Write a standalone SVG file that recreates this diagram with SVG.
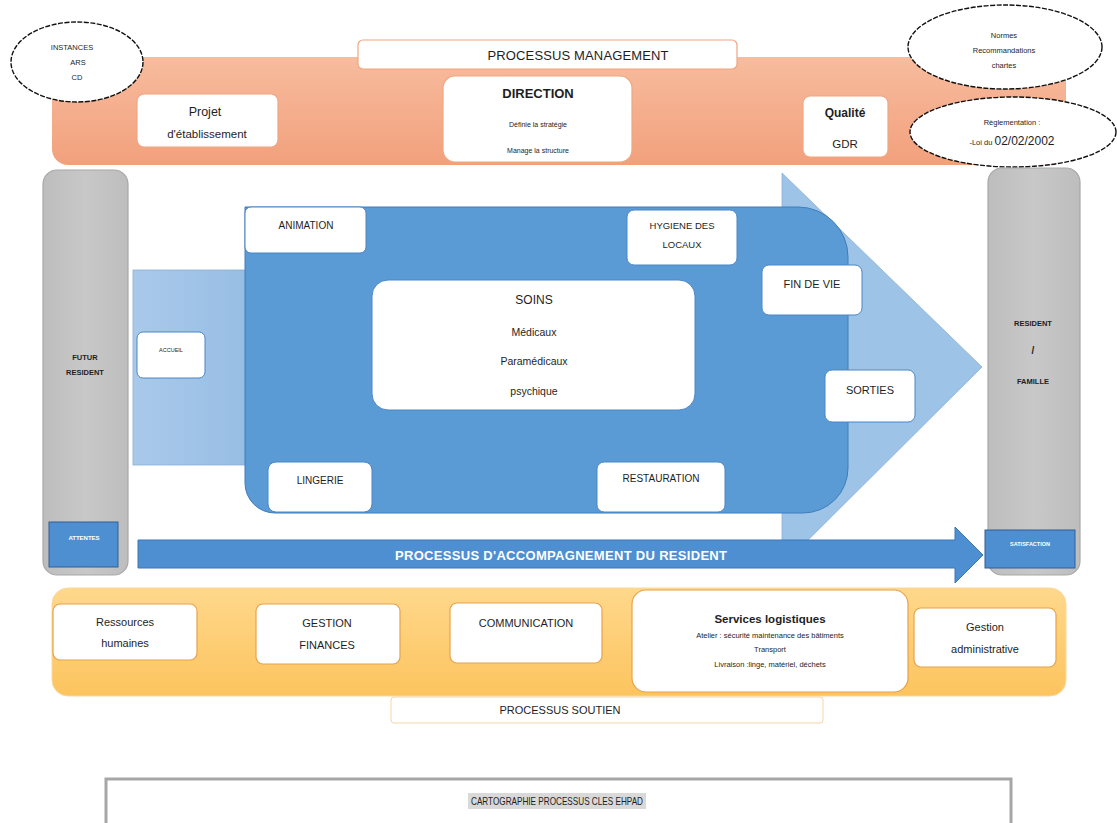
<svg xmlns="http://www.w3.org/2000/svg" width="1117" height="823" viewBox="0 0 1117 823">
<defs>
<linearGradient id="gOr" x1="0" y1="0" x2="0" y2="1"><stop offset="0" stop-color="#F7BC9E"/><stop offset="1" stop-color="#F2A07C"/></linearGradient>
<linearGradient id="gYe" x1="0" y1="0" x2="0" y2="1"><stop offset="0" stop-color="#FFD88C"/><stop offset="1" stop-color="#FCC45E"/></linearGradient>
<linearGradient id="gGr" x1="0" y1="0" x2="1" y2="0"><stop offset="0" stop-color="#BDBDBD"/><stop offset="0.5" stop-color="#C8C8C8"/><stop offset="1" stop-color="#BDBDBD"/></linearGradient>
<linearGradient id="gLb" x1="0" y1="0" x2="1" y2="0"><stop offset="0" stop-color="#A9C9EA"/><stop offset="1" stop-color="#97BDE4"/></linearGradient>
</defs>
<style>
text{font-family:"Liberation Sans",Arial,sans-serif;fill:#1e1e1e;text-anchor:middle}
.wb{fill:#fff;stroke:#F0A680;stroke-width:1.2}
.wbb{fill:#fff;stroke:#4A86C5;stroke-width:1}
.wby{fill:#fff;stroke:#E8A24A;stroke-width:1.2}
.ell{fill:#fff;stroke:#111;stroke-width:1.4;stroke-dasharray:5 1.5}
.b{font-weight:bold}
.w{fill:#fff}
</style>
<rect width="1117" height="823" fill="#fff"/>

<g id="management-band">
<rect x="52" y="57" width="1014" height="108" rx="16" fill="url(#gOr)"/>
</g>
<g id="processus-management">
<rect class="wb" x="358" y="40" width="379" height="29" rx="5"/>
<text x="578" y="60" font-size="13" textLength="181">PROCESSUS MANAGEMENT</text>
</g>
<g id="instances">
<ellipse class="ell" cx="77" cy="62" rx="66" ry="40"/>
<text x="72" y="50" font-size="7.5">INSTANCES</text>
<text x="78" y="65" font-size="7.5">ARS</text>
<text x="77" y="80" font-size="7.5">CD</text>
</g>
<g id="projet">
<rect class="wb" x="137" y="94" width="141" height="53" rx="7"/>
<text x="205" y="116" font-size="12.5">Projet</text>
<text x="207" y="138" font-size="11.5">d'établissement</text>
</g>
<g id="direction">
<rect class="wb" x="443" y="76" width="189" height="86" rx="12"/>
<text x="538" y="98" font-size="13" class="b">DIRECTION</text>
<text x="538" y="127" font-size="7">Définie la stratégie</text>
<text x="538" y="153" font-size="7">Manage la structure</text>
</g>
<g id="qualite">
<rect class="wb" x="803" y="96" width="85" height="61" rx="7"/>
<text x="845" y="117" font-size="12" class="b">Qualité</text>
<text x="845" y="148" font-size="11.5">GDR</text>
</g>
<g id="normes">
<ellipse class="ell" cx="1005" cy="47" rx="97" ry="42"/>
<text x="1004" y="38" font-size="7.5">Normes</text>
<text x="1004" y="53" font-size="7.5">Recommandations</text>
<text x="1004" y="68" font-size="7.5">chartes</text>
</g>
<g id="reglementation">
<ellipse class="ell" cx="1013" cy="132" rx="103" ry="35"/>
<text x="1012" y="125" font-size="7.5">Règlementation :</text>
<text x="1012" y="145" font-size="7.5">-Loi du <tspan font-size="12">02/02/2002</tspan></text>
</g>

<g id="futur-resident">
<rect x="43" y="170" width="85" height="405" rx="14" fill="url(#gGr)" stroke="#A8A8A8" stroke-width="1.2"/>
<text x="85" y="360" font-size="7.5" class="b" fill="#333">FUTUR</text>
<text x="85" y="375" font-size="7.5" class="b" fill="#333">RESIDENT</text>
</g>
<g id="attentes">
<rect x="49" y="522" width="69" height="45" fill="#4E8FD2" stroke="#2F5F93" stroke-width="1"/>
<text x="84" y="540" font-size="6" class="b w">ATTENTES</text>
</g>
<g id="resident-famille">
<rect x="988" y="168" width="92" height="407" rx="14" fill="url(#gGr)" stroke="#A8A8A8" stroke-width="1.2"/>
<text x="1033" y="326" font-size="7.5" class="b" fill="#333">RESIDENT</text>
<text x="1033" y="354" font-size="10" class="b" fill="#333">/</text>
<text x="1033" y="384" font-size="7.5" class="b" fill="#333">FAMILLE</text>
</g>
<g id="satisfaction">
<rect x="985" y="530" width="90" height="38" fill="#4E8FD2" stroke="#2F5F93" stroke-width="1"/>
<text x="1030" y="546" font-size="5.5" class="b w">SATISFACTION</text>
</g>

<g id="connectors">
<rect x="133" y="270" width="120" height="195" fill="url(#gLb)" stroke="#8AB0DA" stroke-width="0.8"/>
<polygon points="782,173 982,367 782,566" fill="#9DC3E6" stroke="#8AB0DA" stroke-width="0.8"/>
<polygon points="138,540 955,540 955,527 983,555 955,583 955,568 138,568" fill="#4E8FD2" stroke="#3C77B5" stroke-width="1"/>
<text x="561" y="560" font-size="13" class="b w" textLength="332">PROCESSUS D'ACCOMPAGNEMENT DU RESIDENT</text>
</g>

<g id="accueil">
<rect class="wbb" x="137" y="332" width="68" height="46" rx="6"/>
<text x="171" y="352" font-size="5.5" fill="#444">ACCUEIL</text>
</g>

<g id="accompagnement-zone">
<path d="M245 207 H798 A50 50 0 0 1 848 257 V468 A45 45 0 0 1 803 513 H275 A30 30 0 0 1 245 483 Z" fill="#5B9BD5" stroke="#3F7CBA" stroke-width="1"/>
</g>
<g id="animation">
<rect class="wbb" x="245" y="207" width="121" height="46" rx="6"/>
<text x="306" y="229" font-size="10">ANIMATION</text>
</g>
<g id="hygiene">
<rect class="wbb" x="627" y="210" width="110" height="55" rx="7"/>
<text x="682" y="229" font-size="9.5">HYGIENE DES</text>
<text x="682" y="248" font-size="9.5">LOCAUX</text>
</g>
<g id="soins">
<rect class="wbb" x="372" y="280" width="323" height="130" rx="16"/>
<text x="534" y="304" font-size="12">SOINS</text>
<text x="534" y="336" font-size="10.5">Médicaux</text>
<text x="534" y="365" font-size="10.5">Paramédicaux</text>
<text x="534" y="395" font-size="10.5">psychique</text>
</g>
<g id="lingerie">
<rect class="wbb" x="268" y="462" width="104" height="50" rx="8"/>
<text x="320" y="484" font-size="10">LINGERIE</text>
</g>
<g id="restauration">
<rect class="wbb" x="597" y="462" width="128" height="50" rx="7"/>
<text x="661" y="482" font-size="10">RESTAURATION</text>
</g>
<g id="fin-de-vie">
<rect class="wbb" x="762" y="265" width="100" height="50" rx="7"/>
<text x="812" y="288" font-size="11">FIN DE VIE</text>
</g>
<g id="sorties">
<rect class="wbb" x="825" y="370" width="90" height="52" rx="7"/>
<text x="870" y="394" font-size="11">SORTIES</text>
</g>

<g id="soutien-band">
<rect x="52" y="588" width="1014" height="108" rx="16" fill="url(#gYe)" stroke="#FBD79A" stroke-width="1"/>
</g>
<g id="processus-soutien">
<rect x="391" y="697" width="432" height="26" rx="3" fill="#fff" stroke="#F6D5A6" stroke-width="1"/>
<text x="560" y="714" font-size="11">PROCESSUS SOUTIEN</text>
</g>
<g id="ressources-humaines">
<rect class="wby" x="53" y="604" width="144" height="56" rx="7"/>
<text x="125" y="626" font-size="11">Ressources</text>
<text x="125" y="647" font-size="11">humaines</text>
</g>
<g id="gestion-finances">
<rect class="wby" x="256" y="604" width="144" height="60" rx="7"/>
<text x="327" y="627" font-size="11">GESTION</text>
<text x="327" y="649" font-size="11">FINANCES</text>
</g>
<g id="communication">
<rect class="wby" x="450" y="603" width="152" height="60" rx="7"/>
<text x="526" y="627" font-size="11">COMMUNICATION</text>
</g>
<g id="services-logistiques">
<rect class="wby" x="632" y="590" width="276" height="102" rx="14"/>
<text x="770" y="623" font-size="11.5" class="b">Services logistiques</text>
<text x="770" y="638" font-size="7.5">Atelier : sécurité maintenance des bâtiments</text>
<text x="770" y="652" font-size="7.5">Transport</text>
<text x="770" y="667" font-size="7.5">Livraison :linge, matériel, déchets</text>
</g>
<g id="gestion-administrative">
<rect class="wby" x="914" y="608" width="142" height="59" rx="7"/>
<text x="985" y="631" font-size="11">Gestion</text>
<text x="985" y="653" font-size="11">administrative</text>
</g>

<g id="cartographie">
<rect x="106" y="779" width="905" height="48" fill="#fff" stroke="#A6A6A6" stroke-width="3"/>
<rect x="468" y="793" width="178" height="16" fill="#D9D9D9"/>
<text x="557" y="805" font-size="10.5" textLength="172" lengthAdjust="spacingAndGlyphs">CARTOGRAPHIE PROCESSUS CLES EHPAD</text>
</g>
</svg>
